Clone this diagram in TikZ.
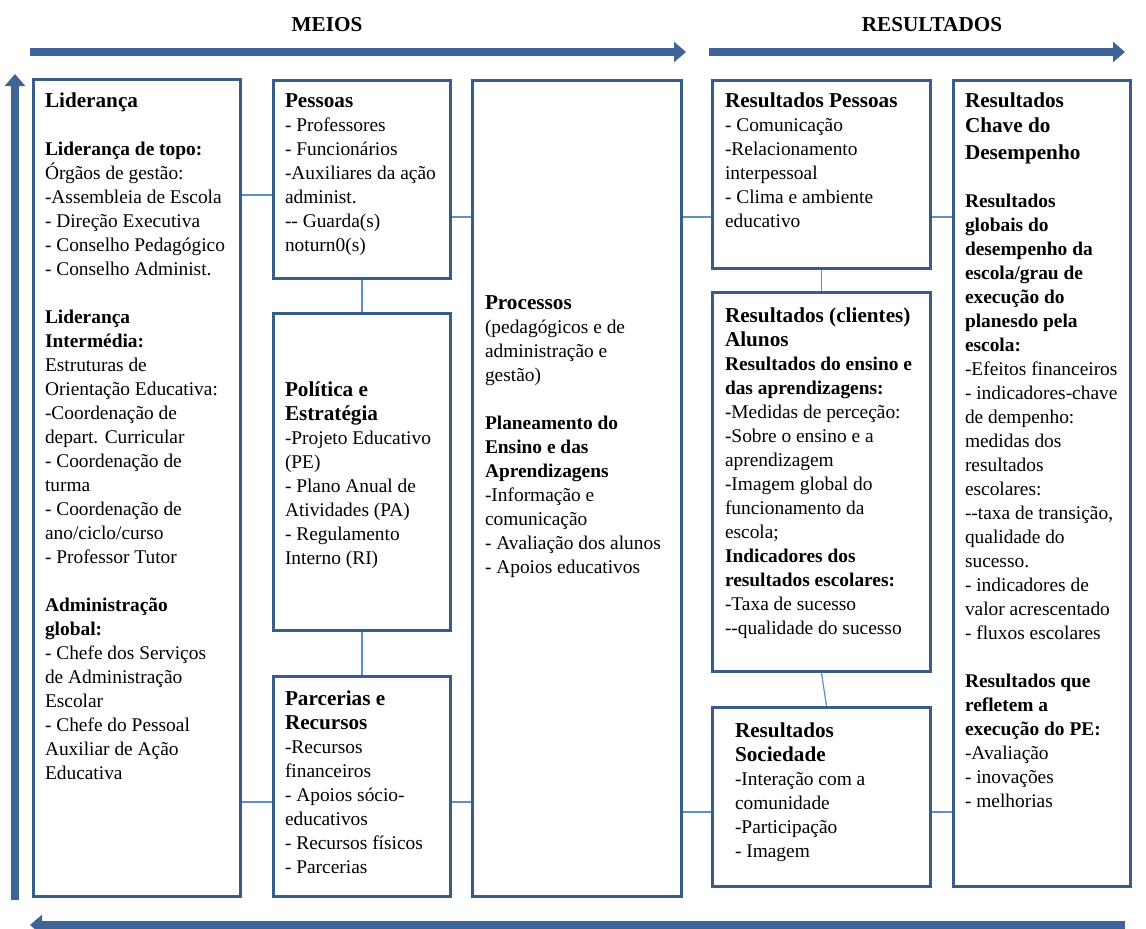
\documentclass[tikz,border=0pt]{standalone}
\usepackage{fontspec}
\setmainfont{Liberation Serif}
\usepackage{tikz}
\usetikzlibrary{positioning, arrows.meta}
\definecolor{boxblue}{RGB}{56, 93, 138}
\definecolor{linkblue}{RGB}{96, 142, 200}
\definecolor{arrowblue}{RGB}{62, 100, 152}
\newcommand{\ttl}[1]{{\fontsize{21.2}{24}\selectfont\bfseries #1}}

\begin{document}
\begin{tikzpicture}[x=1pt, y=-1pt,
    panel/.style={draw=boxblue, line width=3.2pt, fill=white, inner sep=0pt, anchor=north west},
    txt/.style={inner sep=0pt, outer sep=0pt, align=left, font=\fontsize{19.4}{24}\selectfont, execute at begin node=\strut},
    head/.style={inner sep=0pt, font=\fontsize{21.2}{24}\selectfont\bfseries},
    link/.style={draw=linkblue, line width=1.2pt},
    bigarrow/.style={draw=arrowblue, line width=8.5pt, -{Triangle[length=12pt, width=20pt]}}]
    \useasboundingbox (0,0) rectangle (1146,929);

    \node[head] (meios) at (327,25) {MEIOS};
    \node[head] (resultados) at (932,25) {RESULTADOS};

    \coordinate (meiosL) at (30,52);
    \coordinate (meiosR) at (686,52);
    \coordinate (resL) at (709,52);
    \coordinate (resR) at (1125,52);
    \coordinate (upB) at (15,900);
    \coordinate (upT) at (15,74);
    \coordinate (backR) at (1125,925);
    \coordinate (backL) at (30,925);
    \draw[bigarrow] (meiosL) -- (meiosR);
    \draw[bigarrow] (resL) -- (resR);
    \draw[bigarrow] (upB) -- (upT);
    \draw[bigarrow] (backR) -- (backL);

    % meios
    \node[panel, minimum width=206.8pt, minimum height=816.8pt] (lid) at (32,78) {};
    \node[panel, minimum width=176.8pt, minimum height=197.8pt] (pes) at (272,79) {};
    \node[panel, minimum width=176.8pt, minimum height=316.8pt] (pol) at (272,312) {};
    \node[panel, minimum width=176.8pt, minimum height=219.8pt] (par) at (272,675) {};
    \node[panel, minimum width=208.8pt, minimum height=815.8pt] (pro) at (471,79) {};
    % resultados
    \node[panel, minimum width=217.8pt, minimum height=187.8pt] (rpe) at (711,79) {};
    \node[panel, minimum width=217.8pt, minimum height=378.8pt] (rcl) at (711,291) {};
    \node[panel, minimum width=217.8pt, minimum height=178.8pt] (rso) at (711,706) {};
    \node[panel, minimum width=176.8pt, minimum height=805.8pt] (rch) at (952,79) {};

    \node[txt, below right=14.5pt and 13pt of lid.north west] (lidtxt) {\ttl{Liderança}\\
        ~\\
        \textbf{Liderança de topo:}\\
        Órgãos de gestão:\\
        -Assembleia de Escola\\
        - Direção Executiva\\
        - Conselho Pedagógico\\
        - Conselho Administ.\\
        ~\\
        \textbf{Liderança}\\
        \textbf{Intermédia:}\\
        Estruturas de\\
        Orientação Educativa:\\
        -Coordenação de\\
        depart. Curricular\\
        - Coordenação de\\
        turma\\
        - Coordenação de\\
        ano/ciclo/curso\\
        - Professor Tutor\\
        ~\\
        \textbf{Administração}\\
        \textbf{global:}\\
        - Chefe dos Serviços\\
        de Administração\\
        Escolar\\
        - Chefe do Pessoal\\
        Auxiliar de Ação\\
        Educativa};
    \node[txt, below right=14.5pt and 13pt of pes.north west] (pestxt) {\ttl{Pessoas}\\
        - Professores\\
        - Funcionários\\
        -Auxiliares da ação\\
        administ.\\
        -{}- Guarda(s)\\
        noturn0(s)};
    \node[txt, right=13pt of pol.west, yshift=-4.5pt] (poltxt) {\ttl{Política e}\\
        \ttl{Estratégia}\\
        -Projeto Educativo\\
        (PE)\\
        - Plano Anual de\\
        Atividades (PA)\\
        - Regulamento\\
        Interno (RI)};
    \node[txt, below right=16pt and 13pt of par.north west] (partxt) {\ttl{Parcerias e}\\
        \ttl{Recursos}\\
        -Recursos\\
        financeiros\\
        - Apoios sócio-\\
        educativos\\
        - Recursos físicos\\
        - Parcerias};
    \node[txt, below right=217pt and 14pt of pro.north west] (protxt) {\ttl{Processos}\\
        (pedagógicos e de\\
        administração e\\
        gestão)\\
        ~\\
        \textbf{Planeamento do}\\
        \textbf{Ensino e das}\\
        \textbf{Aprendizagens}\\
        -Informação e\\
        comunicação\\
        - Avaliação dos alunos\\
        - Apoios educativos};
    \node[txt, below right=14pt and 14pt of rpe.north west] (rpetxt) {\ttl{Resultados Pessoas}\\
        - Comunicação\\
        -Relacionamento\\
        interpessoal\\
        - Clima e ambiente\\
        educativo};
    \node[txt, below right=17pt and 14pt of rcl.north west] (rcltxt) {\ttl{Resultados (clientes)}\\
        \ttl{Alunos}\\
        \textbf{Resultados do ensino e}\\
        \textbf{das aprendizagens:}\\
        -Medidas de perceção:\\
        -Sobre o ensino e a\\
        aprendizagem\\
        -Imagem global do\\
        funcionamento da\\
        escola;\\
        \textbf{Indicadores dos}\\
        \textbf{resultados escolares:}\\
        -Taxa de sucesso\\
        -{}-qualidade do sucesso};
    \node[txt, below right=17pt and 24pt of rso.north west] (rsotxt) {\ttl{Resultados}\\
        \ttl{Sociedade}\\
        -Interação com a\\
        comunidade\\
        -Participação\\
        - Imagem};
    \node[txt, below right=14pt and 13pt of rch.north west] (rchtxt) {\ttl{Resultados}\\[1pt]
        \ttl{Chave do}\\[3pt]
        \ttl{Desempenho}\\
        ~\\
        \textbf{Resultados}\\
        \textbf{globais do}\\
        \textbf{desempenho da}\\
        \textbf{escola/grau de}\\
        \textbf{execução do}\\
        \textbf{planesdo pela}\\
        \textbf{escola:}\\
        -Efeitos financeiros\\
        - indicadores-chave\\
        de dempenho:\\
        medidas dos\\
        resultados\\
        escolares:\\
        -{}-taxa de transição,\\
        qualidade do\\
        sucesso.\\
        - indicadores de\\
        valor acrescentado\\
        - fluxos escolares\\
        ~\\
        \textbf{Resultados que}\\
        \textbf{refletem a}\\
        \textbf{execução do PE:}\\
        -Avaliação\\
        - inovações\\
        - melhorias};

    \coordinate (lidpes) at ([yshift=-15.5pt]pes.west);
    \coordinate (pespro) at ([yshift=-37.5pt]pes.east);
    \coordinate (lidpar) at ([yshift=-15.5pt]par.west);
    \coordinate (parpro) at ([yshift=-15.5pt]par.east);
    \coordinate (prorpe) at ([yshift=-42.5pt]rpe.west);
    \coordinate (rperch) at ([yshift=-42.5pt]rpe.east);
    \coordinate (prorso) at ([yshift=-15pt]rso.west);
    \coordinate (rsorch) at ([yshift=-15pt]rso.east);
    \draw[link] (lidpes) -- (lidpes -| lid.east);
    \draw[link] (pespro) -- (pespro -| pro.west);
    \draw[link] (lidpar) -- (lidpar -| lid.east);
    \draw[link] (parpro) -- (parpro -| pro.west);
    \draw[link] (prorpe) -- (prorpe -| pro.east);
    \draw[link] (rperch) -- (rperch -| rch.west);
    \draw[link] (prorso) -- (prorso -| pro.east);
    \draw[link] (rsorch) -- (rsorch -| rch.west);
    \draw[link] (pes.south) -- (pol.north);
    \draw[link] (pol.south) -- (par.north);
    \draw[link] (rpe.south) -- (rcl.north);
    \draw[link] (rcl.south) -- ([xshift=5pt]rso.north);
\end{tikzpicture}
\end{document}
